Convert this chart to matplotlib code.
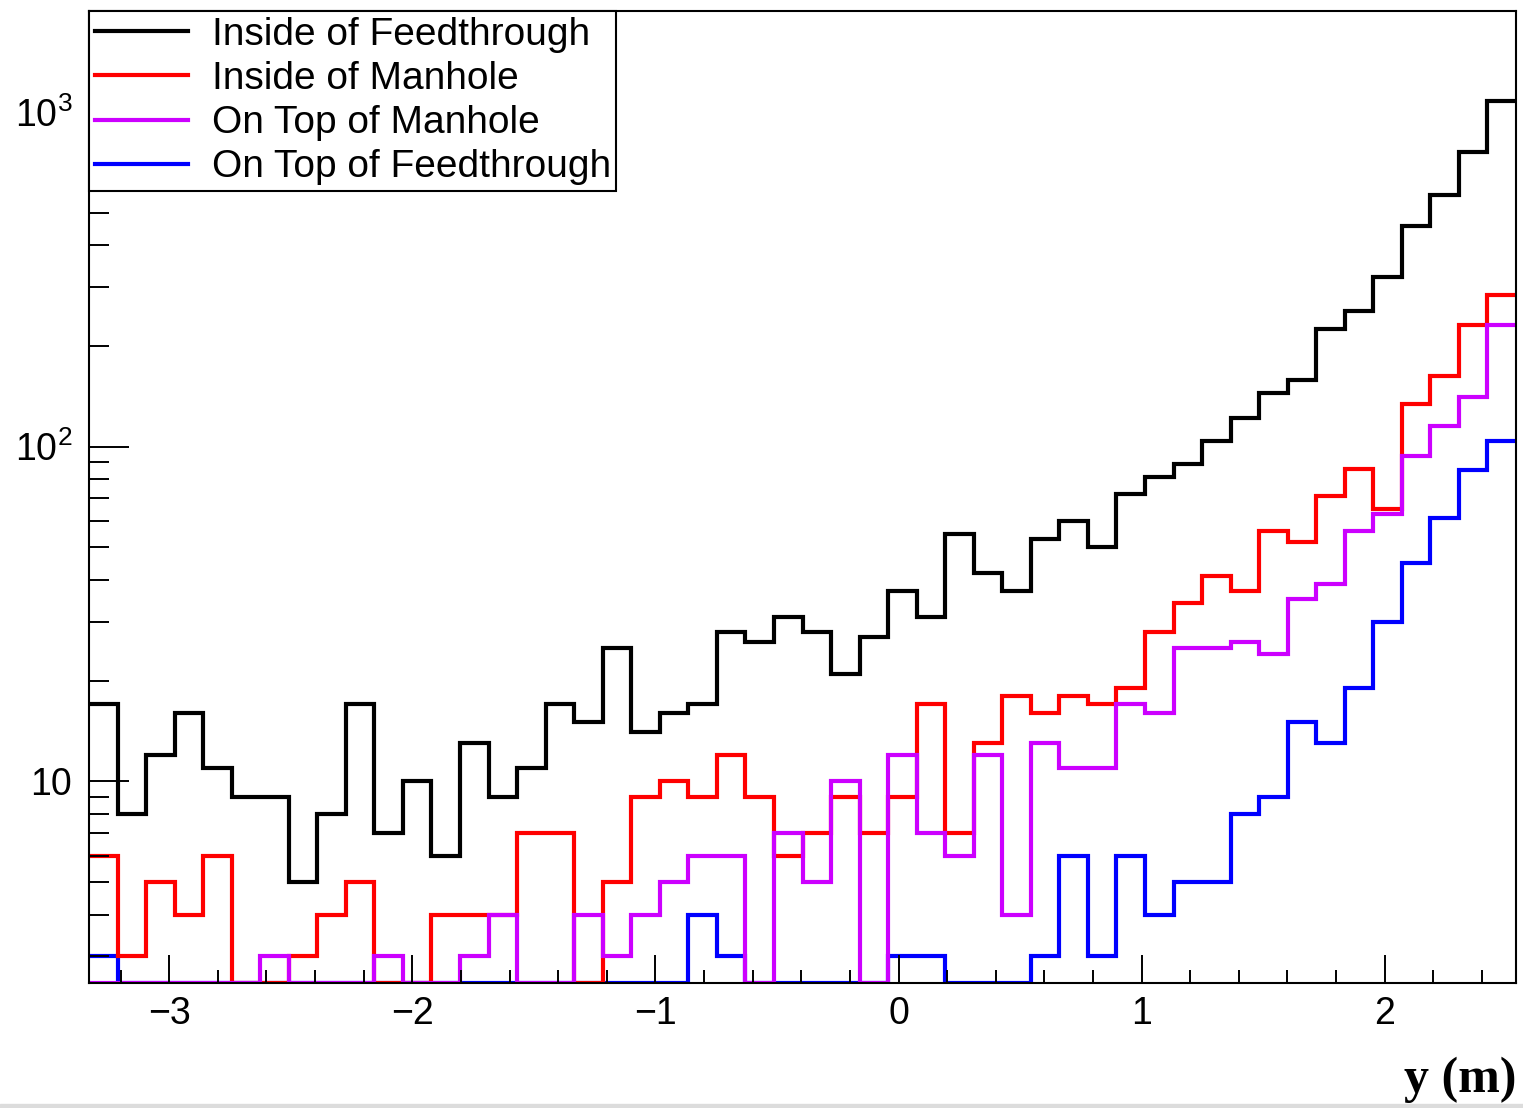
import numpy as np
import matplotlib.pyplot as plt
from matplotlib.ticker import FixedLocator, LogLocator, MultipleLocator, NullFormatter
from matplotlib.lines import Line2D
from matplotlib.patches import Rectangle

plt.rcParams['font.family'] = ['Liberation Sans', 'DejaVu Sans']

# histogram range (y in m), 50 bins
x_lo, x_hi = -3.33, 2.54
y_lo, y_hi = 2.5, 2000

# counts per bin (bins below the axis floor set to 0)
inside_feedthrough = [17, 8, 12, 16, 11, 9, 9, 5, 8, 17,
                      7, 10, 6, 13, 9, 11, 17, 15, 25, 14,
                      16, 17, 28, 26, 31, 28, 21, 27, 37, 31,
                      55, 42, 37, 53, 60, 50, 72, 81, 89, 104,
                      122, 145, 158, 225, 254, 320, 455, 565, 760, 1080]
inside_manhole = [6, 3, 5, 4, 6, 0, 0, 3, 4, 5,
                  0, 0, 4, 4, 4, 7, 7, 0, 5, 9,
                  10, 9, 12, 9, 6, 7, 9, 7, 9, 17,
                  7, 13, 18, 16, 18, 17, 19, 28, 34, 41,
                  37, 56, 52, 71, 86, 65, 134, 162, 230, 284]
top_manhole = [0, 0, 0, 0, 0, 0, 3, 0, 0, 0,
               3, 0, 0, 3, 4, 0, 0, 4, 3, 4,
               5, 6, 6, 0, 7, 5, 10, 0, 12, 7,
               6, 12, 4, 13, 11, 11, 17, 16, 25, 25,
               26, 24, 35, 39, 56, 63, 94, 115, 141, 230]
top_feedthrough = [3, 0, 0, 0, 0, 0, 0, 0, 0, 0,
                   0, 0, 0, 0, 0, 0, 0, 0, 0, 0,
                   0, 4, 3, 0, 0, 0, 0, 0, 3, 3,
                   0, 0, 0, 3, 6, 3, 6, 4, 5, 5,
                   8, 9, 15, 13, 19, 30, 45, 61, 85, 104]

labels = ['Inside of Feedthrough', 'Inside of Manhole',
          'On Top of Manhole', 'On Top of Feedthrough']
colors = ['black', '#ff0000', '#cc00ff', '#0000ff']
series = [inside_feedthrough, inside_manhole, top_manhole, top_feedthrough]

fig = plt.figure(figsize=(15.23, 11.08), dpi=100)
ax = fig.add_axes([89 / 1523, 1 - 983 / 1108, 1427 / 1523, 972 / 1108])

edges = np.linspace(x_lo, x_hi, len(inside_feedthrough) + 1)
# draw order like the original: black, blue, red, violet on top
for i in [0, 3, 1, 2]:
    vals = np.maximum(np.array(series[i], dtype=float), y_lo)
    ax.stairs(vals, edges, color=colors[i], lw=3, baseline=None)

ax.set_yscale('log')
ax.set_xlim(x_lo, x_hi)
ax.set_ylim(y_lo, y_hi)

ax.xaxis.set_major_locator(MultipleLocator(1))
ax.xaxis.set_minor_locator(MultipleLocator(0.2))
ax.yaxis.set_major_locator(FixedLocator([10, 100, 1000]))
ax.set_yticklabels(['10', r'$\mathregular{10^{2}}$', r'$\mathregular{10^{3}}$'])
ax.yaxis.set_minor_locator(LogLocator(base=10, subs=np.arange(2, 10), numticks=20))
ax.yaxis.set_minor_formatter(NullFormatter())

ax.tick_params(axis='both', which='both', direction='in', width=1.4,
               top=False, right=False, labelsize=27, color='black')
ax.tick_params(axis='x', which='major', length=20, pad=9)
ax.tick_params(axis='x', which='minor', length=9.5)
ax.tick_params(axis='y', which='major', length=29, pad=12)
ax.tick_params(axis='y', which='minor', length=14.5)
for s in ax.spines.values():
    s.set_linewidth(1.5)

ax.set_xlabel('y (m)', loc='right', fontsize=36, fontweight='bold',
              family=['Liberation Serif', 'DejaVu Serif'], labelpad=18)

handles = [Line2D([], [], color=c, lw=3) for c in colors]
leg = ax.legend(handles, labels, loc='upper left', bbox_to_anchor=(0, 1),
                borderaxespad=0, fontsize=28, frameon=True, fancybox=False,
                edgecolor='black', framealpha=1, handlelength=2.4,
                handletextpad=0.6, labelspacing=0.21, borderpad=0.15)
leg.get_frame().set_linewidth(1.5)

fig.patches.append(Rectangle((0, 0), 1, 4 / 1108, transform=fig.transFigure,
                             color='#dcdcdc', zorder=0))

fig.savefig('out.png', dpi=100)
